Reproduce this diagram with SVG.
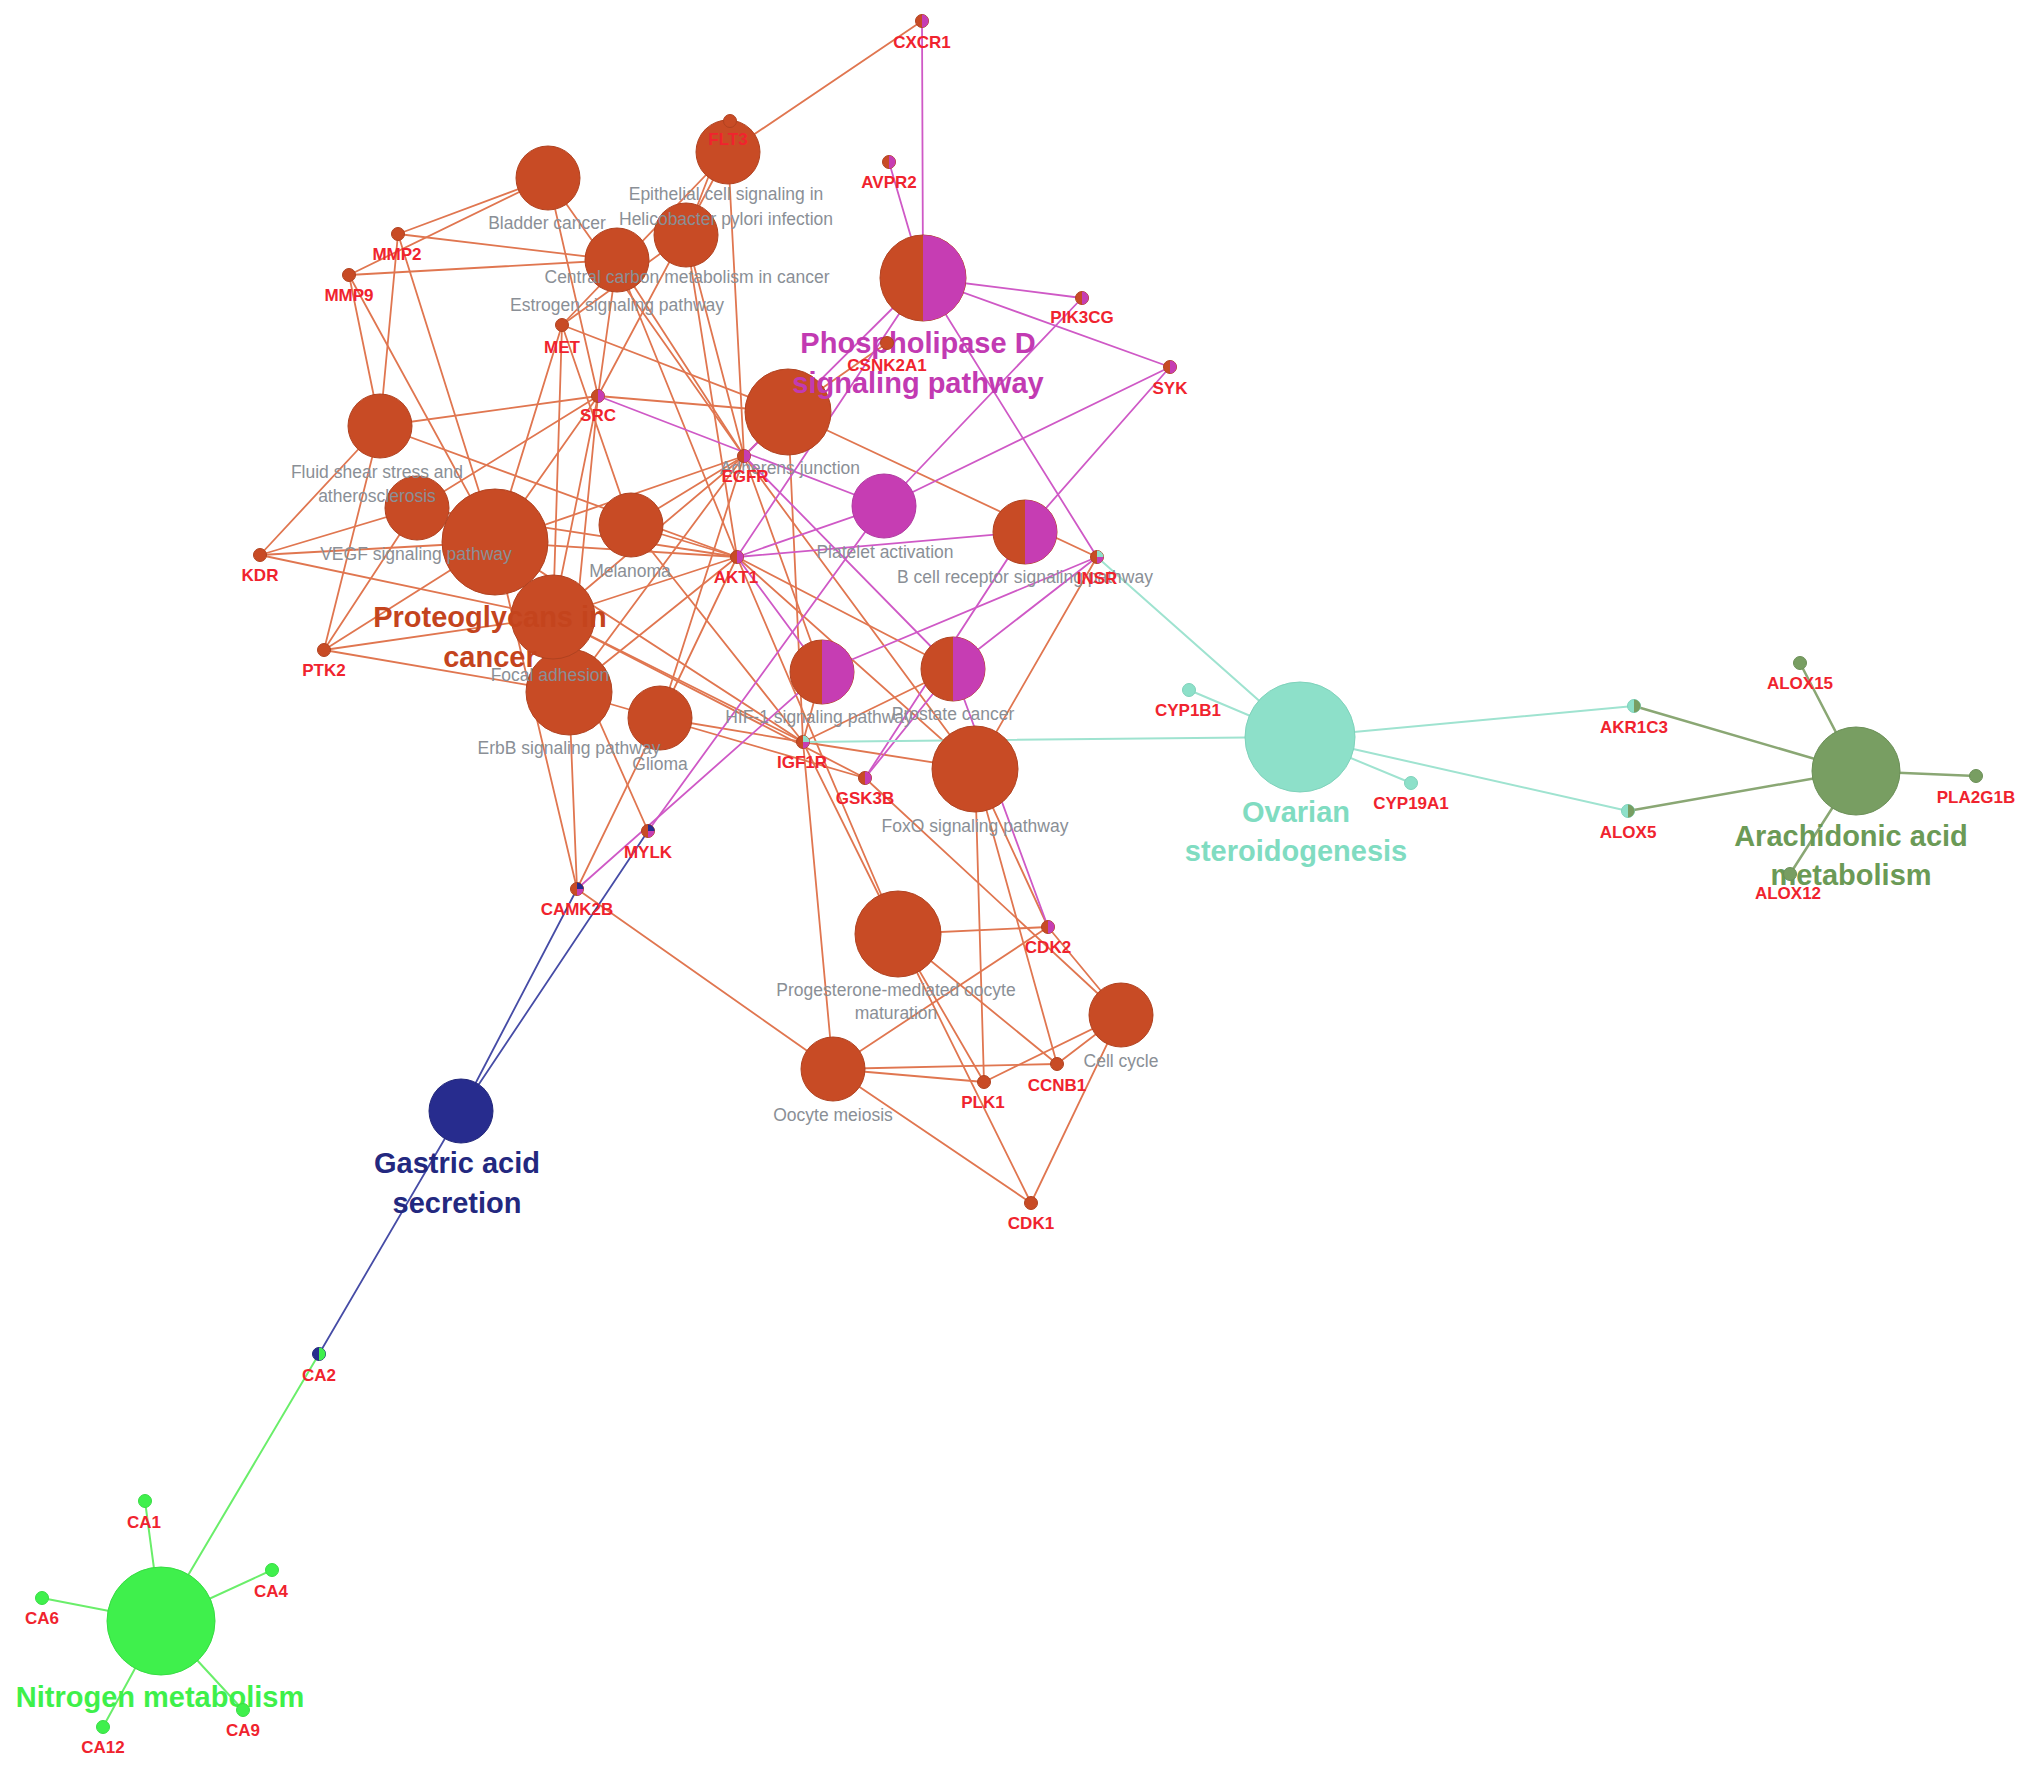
<svg xmlns="http://www.w3.org/2000/svg" width="2032" height="1771" viewBox="0 0 2032 1771">
<style>
text{font-family:"Liberation Sans",Arial,sans-serif;text-anchor:middle}
.g{font-size:17px;font-weight:bold;fill:#f0232e}
.pl{font-size:17.5px;fill:#8a8f96}
.big{font-size:29px;font-weight:bold}
line{stroke-linecap:round}
.eo{stroke:#e07650;stroke-width:1.8}
.em{stroke:#cf59c6;stroke-width:1.8}
.en{stroke:#464ca6;stroke-width:1.8}
.ea{stroke:#9fe3d0;stroke-width:2}
.eg{stroke:#8aa774;stroke-width:2.5}
.eb{stroke:#6aee6a;stroke-width:2}
.o{fill:#c84b25;stroke:#b04220;stroke-width:1}
.m{fill:#c63db3;stroke:#b03aa0;stroke-width:1}
.nv{fill:#272c8e;stroke:#22277a;stroke-width:1}
.aq{fill:#8de0c9;stroke:#7fd2bb;stroke-width:1}
.ol{fill:#789e62;stroke:#6b8f57;stroke-width:1}
.bg{fill:#3ff04c;stroke:#38dc44;stroke-width:1}
.mh{fill:#c63db3}
.ah{fill:#8de0c9}
.nh{fill:#272c8e}
.gh{fill:#3ff04c}
.oh{fill:#789e62}
</style>
<rect width="2032" height="1771" fill="#ffffff"/>
<g id="edges">
<!-- P1 Bladder -->
<line class="eo" x1="548" y1="178" x2="398" y2="234"/><line class="eo" x1="548" y1="178" x2="349" y2="275"/><line class="eo" x1="548" y1="178" x2="598" y2="396"/><line class="eo" x1="548" y1="178" x2="744" y2="456"/>
<!-- P2 -->
<line class="eo" x1="728" y1="152" x2="922" y2="21"/><line class="eo" x1="728" y1="152" x2="744" y2="456"/><line class="eo" x1="728" y1="152" x2="562" y2="325"/><line class="eo" x1="728" y1="152" x2="598" y2="396"/>
<!-- P3 -->
<line class="eo" x1="686" y1="235" x2="730" y2="121"/><line class="eo" x1="686" y1="235" x2="744" y2="456"/><line class="eo" x1="686" y1="235" x2="562" y2="325"/><line class="eo" x1="686" y1="235" x2="737" y2="557"/>
<!-- P4 -->
<line class="eo" x1="617" y1="260" x2="398" y2="234"/><line class="eo" x1="617" y1="260" x2="349" y2="275"/><line class="eo" x1="617" y1="260" x2="598" y2="396"/><line class="eo" x1="617" y1="260" x2="744" y2="456"/><line class="eo" x1="617" y1="260" x2="737" y2="557"/>
<!-- P6 -->
<line class="eo" x1="380" y1="426" x2="398" y2="234"/><line class="eo" x1="380" y1="426" x2="349" y2="275"/><line class="eo" x1="380" y1="426" x2="260" y2="555"/><line class="eo" x1="380" y1="426" x2="598" y2="396"/><line class="eo" x1="380" y1="426" x2="737" y2="557"/><line class="eo" x1="380" y1="426" x2="324" y2="650"/>
<!-- P7 -->
<line class="eo" x1="417" y1="508" x2="260" y2="555"/><line class="eo" x1="417" y1="508" x2="598" y2="396"/><line class="eo" x1="417" y1="508" x2="324" y2="650"/><line class="eo" x1="417" y1="508" x2="737" y2="557"/>
<!-- P8 -->
<line class="eo" x1="495" y1="542" x2="398" y2="234"/><line class="eo" x1="495" y1="542" x2="349" y2="275"/><line class="eo" x1="495" y1="542" x2="260" y2="555"/><line class="eo" x1="495" y1="542" x2="324" y2="650"/><line class="eo" x1="495" y1="542" x2="598" y2="396"/><line class="eo" x1="495" y1="542" x2="744" y2="456"/><line class="eo" x1="495" y1="542" x2="562" y2="325"/><line class="eo" x1="495" y1="542" x2="737" y2="557"/><line class="eo" x1="495" y1="542" x2="803" y2="742"/><line class="eo" x1="495" y1="542" x2="577" y2="889"/>
<!-- P9 -->
<line class="eo" x1="631" y1="525" x2="744" y2="456"/><line class="eo" x1="631" y1="525" x2="562" y2="325"/><line class="eo" x1="631" y1="525" x2="737" y2="557"/><line class="eo" x1="631" y1="525" x2="803" y2="742"/>
<!-- P10 -->
<line class="eo" x1="553" y1="617" x2="260" y2="555"/><line class="eo" x1="553" y1="617" x2="324" y2="650"/><line class="eo" x1="553" y1="617" x2="598" y2="396"/><line class="eo" x1="553" y1="617" x2="744" y2="456"/><line class="eo" x1="553" y1="617" x2="562" y2="325"/><line class="eo" x1="553" y1="617" x2="737" y2="557"/><line class="eo" x1="553" y1="617" x2="803" y2="742"/><line class="eo" x1="553" y1="617" x2="865" y2="778"/><line class="eo" x1="553" y1="617" x2="648" y2="831"/>
<!-- P11 -->
<line class="eo" x1="569" y1="692" x2="744" y2="456"/><line class="eo" x1="569" y1="692" x2="598" y2="396"/><line class="eo" x1="569" y1="692" x2="324" y2="650"/><line class="eo" x1="569" y1="692" x2="737" y2="557"/><line class="eo" x1="569" y1="692" x2="865" y2="778"/><line class="eo" x1="569" y1="692" x2="577" y2="889"/>
<!-- P12 -->
<line class="eo" x1="660" y1="718" x2="744" y2="456"/><line class="eo" x1="660" y1="718" x2="803" y2="742"/><line class="eo" x1="660" y1="718" x2="737" y2="557"/><line class="eo" x1="660" y1="718" x2="577" y2="889"/>
<!-- P13 -->
<line class="eo" x1="788" y1="412" x2="744" y2="456"/><line class="eo" x1="788" y1="412" x2="598" y2="396"/><line class="eo" x1="788" y1="412" x2="562" y2="325"/><line class="eo" x1="788" y1="412" x2="803" y2="742"/><line class="eo" x1="788" y1="412" x2="1097" y2="557"/><line class="eo" x1="788" y1="412" x2="887" y2="343"/>
<!-- P16 / P17 orange -->
<line class="eo" x1="822" y1="672" x2="744" y2="456"/><line class="eo" x1="822" y1="672" x2="803" y2="742"/>
<line class="eo" x1="953" y1="669" x2="737" y2="557"/><line class="eo" x1="953" y1="669" x2="803" y2="742"/>
<!-- P18 -->
<line class="eo" x1="975" y1="769" x2="744" y2="456"/><line class="eo" x1="975" y1="769" x2="737" y2="557"/><line class="eo" x1="975" y1="769" x2="803" y2="742"/><line class="eo" x1="975" y1="769" x2="1097" y2="557"/><line class="eo" x1="975" y1="769" x2="1048" y2="927"/><line class="eo" x1="975" y1="769" x2="984" y2="1082"/><line class="eo" x1="975" y1="769" x2="1057" y2="1064"/>
<!-- P19 -->
<line class="eo" x1="898" y1="934" x2="737" y2="557"/><line class="eo" x1="898" y1="934" x2="803" y2="742"/><line class="eo" x1="898" y1="934" x2="1031" y2="1203"/><line class="eo" x1="898" y1="934" x2="1048" y2="927"/><line class="eo" x1="898" y1="934" x2="1057" y2="1064"/><line class="eo" x1="898" y1="934" x2="984" y2="1082"/>
<!-- P20 -->
<line class="eo" x1="833" y1="1069" x2="803" y2="742"/><line class="eo" x1="833" y1="1069" x2="577" y2="889"/><line class="eo" x1="833" y1="1069" x2="1031" y2="1203"/><line class="eo" x1="833" y1="1069" x2="1048" y2="927"/><line class="eo" x1="833" y1="1069" x2="1057" y2="1064"/><line class="eo" x1="833" y1="1069" x2="984" y2="1082"/>
<!-- P21 -->
<line class="eo" x1="1121" y1="1015" x2="1031" y2="1203"/><line class="eo" x1="1121" y1="1015" x2="1048" y2="927"/><line class="eo" x1="1121" y1="1015" x2="1057" y2="1064"/><line class="eo" x1="1121" y1="1015" x2="984" y2="1082"/><line class="eo" x1="1121" y1="1015" x2="865" y2="778"/>
<!-- magenta -->
<line class="em" x1="923" y1="278" x2="922" y2="21"/><line class="em" x1="923" y1="278" x2="889" y2="162"/><line class="em" x1="923" y1="278" x2="1082" y2="298"/><line class="em" x1="923" y1="278" x2="1170" y2="367"/><line class="em" x1="923" y1="278" x2="744" y2="456"/><line class="em" x1="923" y1="278" x2="737" y2="557"/><line class="em" x1="923" y1="278" x2="1097" y2="557"/>
<line class="em" x1="884" y1="506" x2="598" y2="396"/><line class="em" x1="884" y1="506" x2="737" y2="557"/><line class="em" x1="884" y1="506" x2="1082" y2="298"/><line class="em" x1="884" y1="506" x2="1170" y2="367"/><line class="em" x1="884" y1="506" x2="648" y2="831"/>
<line class="em" x1="1025" y1="532" x2="1170" y2="367"/><line class="em" x1="1025" y1="532" x2="737" y2="557"/><line class="em" x1="1025" y1="532" x2="865" y2="778"/>
<line class="em" x1="822" y1="672" x2="737" y2="557"/><line class="em" x1="822" y1="672" x2="1097" y2="557"/><line class="em" x1="822" y1="672" x2="577" y2="889"/>
<line class="em" x1="953" y1="669" x2="744" y2="456"/><line class="em" x1="953" y1="669" x2="1097" y2="557"/><line class="em" x1="953" y1="669" x2="865" y2="778"/><line class="em" x1="953" y1="669" x2="1048" y2="927"/>
<!-- navy -->
<line class="en" x1="461" y1="1111" x2="577" y2="889"/><line class="en" x1="461" y1="1111" x2="648" y2="831"/><line class="en" x1="461" y1="1111" x2="319" y2="1354"/>
<!-- aqua -->
<line class="ea" x1="1300" y1="737" x2="1097" y2="557"/><line class="ea" x1="1300" y1="737" x2="803" y2="742"/><line class="ea" x1="1300" y1="737" x2="1189" y2="690"/><line class="ea" x1="1300" y1="737" x2="1411" y2="783"/><line class="ea" x1="1300" y1="737" x2="1634" y2="706"/><line class="ea" x1="1300" y1="737" x2="1628" y2="811"/>
<!-- olive -->
<line class="eg" x1="1856" y1="771" x2="1634" y2="706"/><line class="eg" x1="1856" y1="771" x2="1628" y2="811"/><line class="eg" x1="1856" y1="771" x2="1800" y2="663"/><line class="eg" x1="1856" y1="771" x2="1790" y2="874"/><line class="eg" x1="1856" y1="771" x2="1976" y2="776"/>
<!-- bright green -->
<line class="eb" x1="161" y1="1621" x2="145" y2="1501"/><line class="eb" x1="161" y1="1621" x2="319" y2="1354"/><line class="eb" x1="161" y1="1621" x2="272" y2="1570"/><line class="eb" x1="161" y1="1621" x2="42" y2="1598"/><line class="eb" x1="161" y1="1621" x2="243" y2="1710"/><line class="eb" x1="161" y1="1621" x2="103" y2="1727"/>
</g>
<g id="pathways">
<g id="p-bladder"><circle class="o" cx="548" cy="178" r="32"/><text class="pl" x="547" y="229">Bladder cancer</text></g>
<g id="p-estrogen"><circle class="o" cx="617" cy="260" r="32"/><text class="pl" x="617" y="311">Estrogen signaling pathway</text></g>
<g id="p-central"><circle class="o" cx="686" cy="235" r="32"/><text class="pl" x="687" y="283">Central carbon metabolism in cancer</text></g>
<g id="p-hpylori"><circle class="o" cx="728" cy="152" r="32"/><text class="pl" x="726" y="200">Epithelial cell signaling in</text><text class="pl" x="726" y="225">Helicobacter pylori infection</text></g>
<g id="p-glioma"><circle class="o" cx="660" cy="718" r="32"/><text class="pl" x="660" y="770">Glioma</text></g>
<g id="p-erbb"><circle class="o" cx="569" cy="692" r="43"/><text class="pl" x="569" y="754">ErbB signaling pathway</text></g>
<g id="p-focal"><circle class="o" cx="553" cy="617" r="42"/><text class="pl" x="550" y="681">Focal adhesion</text></g>
<g id="p-proteoglycans"><circle class="o" cx="495" cy="542" r="53"/><text class="big" x="490" y="627" fill="#c4441d">Proteoglycans in</text><text class="big" x="490" y="667" fill="#c4441d">cancer</text></g>
<g id="p-vegf"><circle class="o" cx="417" cy="508" r="32"/><text class="pl" x="416" y="560">VEGF signaling pathway</text></g>
<g id="p-fluid"><circle class="o" cx="380" cy="426" r="32"/><text class="pl" x="377" y="478">Fluid shear stress and</text><text class="pl" x="377" y="502">atherosclerosis</text></g>
<g id="p-melanoma"><circle class="o" cx="631" cy="525" r="32"/><text class="pl" x="630" y="577">Melanoma</text></g>
<g id="p-adherens"><circle class="o" cx="788" cy="412" r="43"/><text class="pl" x="790" y="474">Adherens junction</text></g>
<g id="p-platelet"><circle class="m" cx="884" cy="506" r="32"/><text class="pl" x="885" y="558">Platelet activation</text></g>
<g id="p-bcell"><circle class="o" cx="1025" cy="532" r="32"/><path class="mh" d="M1025 500A32 32 0 0 1 1025 564Z"/><text class="pl" x="1025" y="583">B cell receptor signaling pathway</text></g>
<g id="p-hif1"><circle class="o" cx="822" cy="672" r="32"/><path class="mh" d="M822 640A32 32 0 0 1 822 704Z"/><text class="pl" x="819" y="723">HIF-1 signaling pathway</text></g>
<g id="p-prostate"><circle class="o" cx="953" cy="669" r="32"/><path class="mh" d="M953 637A32 32 0 0 1 953 701Z"/><text class="pl" x="953" y="720">Prostate cancer</text></g>
<g id="p-foxo"><circle class="o" cx="975" cy="769" r="43"/><text class="pl" x="975" y="832">FoxO signaling pathway</text></g>
<g id="p-progesterone"><circle class="o" cx="898" cy="934" r="43"/><text class="pl" x="896" y="996">Progesterone-mediated oocyte</text><text class="pl" x="896" y="1019">maturation</text></g>
<g id="p-oocyte"><circle class="o" cx="833" cy="1069" r="32"/><text class="pl" x="833" y="1121">Oocyte meiosis</text></g>
<g id="p-cellcycle"><circle class="o" cx="1121" cy="1015" r="32"/><text class="pl" x="1121" y="1067">Cell cycle</text></g>
<g id="p-phospholipase"><circle class="o" cx="923" cy="278" r="43"/><path class="mh" d="M923 235A43 43 0 0 1 923 321Z"/><text class="big" x="918" y="353" fill="#c23ab2">Phospholipase D</text><text class="big" x="918" y="393" fill="#c23ab2">signaling pathway</text></g>
<g id="p-gastric"><circle class="nv" cx="461" cy="1111" r="32"/><text class="big" x="457" y="1173" fill="#23287f">Gastric acid</text><text class="big" x="457" y="1213" fill="#23287f">secretion</text></g>
<g id="p-ovarian"><circle class="aq" cx="1300" cy="737" r="55"/><text class="big" x="1296" y="822" fill="#80dcc1">Ovarian</text><text class="big" x="1296" y="861" fill="#80dcc1">steroidogenesis</text></g>
<g id="p-arachidonic"><circle class="ol" cx="1856" cy="771" r="44"/><text class="big" x="1851" y="846" fill="#6b9a56">Arachidonic acid</text><text class="big" x="1851" y="885" fill="#6b9a56">metabolism</text></g>
<g id="p-nitrogen"><circle class="bg" cx="161" cy="1621" r="54"/><text class="big" x="160" y="1707" fill="#3ef04a">Nitrogen metabolism</text></g>
</g>
<g id="genes">
<g id="g-CXCR1"><circle class="o" cx="922" cy="21" r="6.5"/><path class="mh" d="M922 14.5A6.5 6.5 0 0 1 922 27.5Z"/><text class="g" x="922" y="48">CXCR1</text></g>
<g id="g-FLT3"><circle class="o" cx="730" cy="121" r="6.5"/><text class="g" x="728" y="145">FLT3</text></g>
<g id="g-AVPR2"><circle class="o" cx="889" cy="162" r="6.5"/><path class="mh" d="M889 155.5A6.5 6.5 0 0 1 889 168.5Z"/><text class="g" x="889" y="188">AVPR2</text></g>
<g id="g-MMP2"><circle class="o" cx="398" cy="234" r="6.5"/><text class="g" x="397" y="260">MMP2</text></g>
<g id="g-MMP9"><circle class="o" cx="349" cy="275" r="6.5"/><text class="g" x="349" y="301">MMP9</text></g>
<g id="g-MET"><circle class="o" cx="562" cy="325" r="6.5"/><text class="g" x="562" y="353">MET</text></g>
<g id="g-SRC"><circle class="o" cx="598" cy="396" r="6.5"/><path class="mh" d="M598 389.5A6.5 6.5 0 0 1 598 402.5Z"/><text class="g" x="598" y="421">SRC</text></g>
<g id="g-CSNK2A1"><circle class="o" cx="887" cy="343" r="6.5"/><text class="g" x="887" y="371">CSNK2A1</text></g>
<g id="g-PIK3CG"><circle class="o" cx="1082" cy="298" r="6.5"/><path class="mh" d="M1082 291.5A6.5 6.5 0 0 1 1082 304.5Z"/><text class="g" x="1082" y="323">PIK3CG</text></g>
<g id="g-SYK"><circle class="o" cx="1170" cy="367" r="6.5"/><path class="mh" d="M1170 360.5A6.5 6.5 0 0 1 1170 373.5Z"/><text class="g" x="1170" y="394">SYK</text></g>
<g id="g-EGFR"><circle class="o" cx="744" cy="456" r="6.5"/><path class="mh" d="M744 449.5A6.5 6.5 0 0 1 744 462.5Z"/><text class="g" x="745" y="482">EGFR</text></g>
<g id="g-KDR"><circle class="o" cx="260" cy="555" r="6.5"/><text class="g" x="260" y="581">KDR</text></g>
<g id="g-AKT1"><circle class="o" cx="737" cy="557" r="6.5"/><path class="mh" d="M737 550.5A6.5 6.5 0 0 1 737 563.5Z"/><text class="g" x="736" y="583">AKT1</text></g>
<g id="g-INSR"><circle class="o" cx="1097" cy="557" r="6.5"/><path class="mh" d="M1097 557L1097 563.5A6.5 6.5 0 0 0 1103.5 557Z"/><path class="ah" d="M1097 557L1103.5 557A6.5 6.5 0 0 0 1097 550.5Z"/><text class="g" x="1097" y="584">INSR</text></g>
<g id="g-PTK2"><circle class="o" cx="324" cy="650" r="6.5"/><text class="g" x="324" y="676">PTK2</text></g>
<g id="g-IGF1R"><circle class="o" cx="803" cy="742" r="6.5"/><path class="mh" d="M803 742L803 748.5A6.5 6.5 0 0 0 809.5 742Z"/><path class="ah" d="M803 742L809.5 742A6.5 6.5 0 0 0 803 735.5Z"/><text class="g" x="802" y="768">IGF1R</text></g>
<g id="g-GSK3B"><circle class="o" cx="865" cy="778" r="6.5"/><path class="mh" d="M865 771.5A6.5 6.5 0 0 1 865 784.5Z"/><text class="g" x="865" y="804">GSK3B</text></g>
<g id="g-CYP1B1"><circle class="aq" cx="1189" cy="690" r="6.5"/><text class="g" x="1188" y="716">CYP1B1</text></g>
<g id="g-MYLK"><circle class="o" cx="648" cy="831" r="6.5"/><path class="mh" d="M648 831L648 837.5A6.5 6.5 0 0 0 654.5 831Z"/><path class="nh" d="M648 831L654.5 831A6.5 6.5 0 0 0 648 824.5Z"/><text class="g" x="648" y="858">MYLK</text></g>
<g id="g-CAMK2B"><circle class="o" cx="577" cy="889" r="6.5"/><path class="mh" d="M577 889L577 895.5A6.5 6.5 0 0 0 583.5 889Z"/><path class="nh" d="M577 889L583.5 889A6.5 6.5 0 0 0 577 882.5Z"/><text class="g" x="577" y="915">CAMK2B</text></g>
<g id="g-CDK2"><circle class="o" cx="1048" cy="927" r="6.5"/><path class="mh" d="M1048 920.5A6.5 6.5 0 0 1 1048 933.5Z"/><text class="g" x="1048" y="953">CDK2</text></g>
<g id="g-PLK1"><circle class="o" cx="984" cy="1082" r="6.5"/><text class="g" x="983" y="1108">PLK1</text></g>
<g id="g-CCNB1"><circle class="o" cx="1057" cy="1064" r="6.5"/><text class="g" x="1057" y="1091">CCNB1</text></g>
<g id="g-CDK1"><circle class="o" cx="1031" cy="1203" r="6.5"/><text class="g" x="1031" y="1229">CDK1</text></g>
<g id="g-CYP19A1"><circle class="aq" cx="1411" cy="783" r="6.5"/><text class="g" x="1411" y="809">CYP19A1</text></g>
<g id="g-AKR1C3"><circle class="aq" cx="1634" cy="706" r="6.5"/><path class="oh" d="M1634 699.5A6.5 6.5 0 0 1 1634 712.5Z"/><text class="g" x="1634" y="733">AKR1C3</text></g>
<g id="g-ALOX5"><circle class="aq" cx="1628" cy="811" r="6.5"/><path class="oh" d="M1628 804.5A6.5 6.5 0 0 1 1628 817.5Z"/><text class="g" x="1628" y="838">ALOX5</text></g>
<g id="g-ALOX15"><circle class="ol" cx="1800" cy="663" r="6.5"/><text class="g" x="1800" y="689">ALOX15</text></g>
<g id="g-PLA2G1B"><circle class="ol" cx="1976" cy="776" r="6.5"/><text class="g" x="1976" y="803">PLA2G1B</text></g>
<g id="g-ALOX12"><circle class="ol" cx="1790" cy="874" r="6.5"/><text class="g" x="1788" y="899">ALOX12</text></g>
<g id="g-CA2"><circle class="nv" cx="319" cy="1354" r="6.5"/><path class="gh" d="M319 1347.5A6.5 6.5 0 0 1 319 1360.5Z"/><text class="g" x="319" y="1381">CA2</text></g>
<g id="g-CA1"><circle class="bg" cx="145" cy="1501" r="6.5"/><text class="g" x="144" y="1528">CA1</text></g>
<g id="g-CA4"><circle class="bg" cx="272" cy="1570" r="6.5"/><text class="g" x="271" y="1597">CA4</text></g>
<g id="g-CA6"><circle class="bg" cx="42" cy="1598" r="6.5"/><text class="g" x="42" y="1624">CA6</text></g>
<g id="g-CA9"><circle class="bg" cx="243" cy="1710" r="6.5"/><text class="g" x="243" y="1736">CA9</text></g>
<g id="g-CA12"><circle class="bg" cx="103" cy="1727" r="6.5"/><text class="g" x="103" y="1753">CA12</text></g>
</g>
</svg>
